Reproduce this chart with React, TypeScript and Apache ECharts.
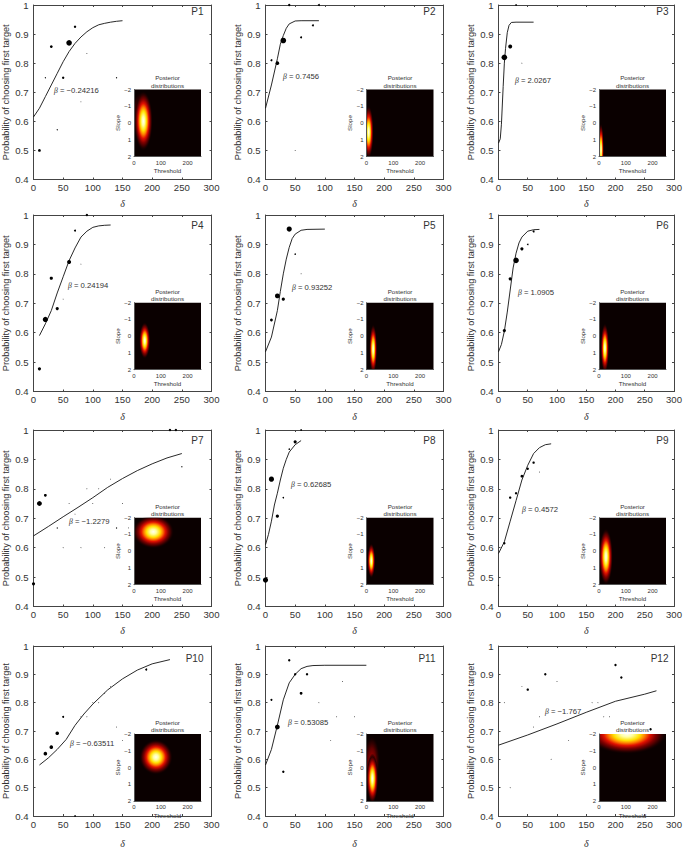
import React, { useEffect, useRef } from "react";
import * as echarts from "echarts";

type Pt = number[];
const panelNames = ["P1", "P2", "P3", "P4", "P5", "P6", "P7", "P8", "P9", "P10", "P11", "P12"];
const betaLabels = ["−0.24216", "0.7456", "2.0267", "0.24194", "0.93252", "1.0905", "−1.2279", "0.62685", "0.4572", "−0.63511", "0.53085", "−1.767"];

// [delta, proportion, dot diameter]
const pointsP1: Pt[] = [[10,.5,3.5],[20,.75,1.5],[30,.857,3.5],[40,.571,1.5],[50,.75,3],[60,.87,7],[70,.925,3],[80,.667,1],[90,.833,1],[140,.75,1.5]];
const pointsP2: Pt[] = [[10,.81,2.5],[20,.8,4.5],[30,.878,7],[40,1,3],[50,.5,1],[60,.889,2.5],[80,.93,2.5],[90,1,2.5]];
const pointsP3: Pt[] = [[10,.82,7],[20,.857,5],[30,1,2],[40,.8,1]];
const pointsP4: Pt[] = [[10,.477,4],[20,.645,6.5],[30,.785,4],[40,.682,4],[50,.714,1],[60,.84,5],[70,.947,2.5],[80,.833,1],[90,1,3]];
const pointsP5: Pt[] = [[10,.643,3.5],[20,.725,6],[30,.714,4],[40,.952,6.5],[50,.867,2],[60,.8,1]];
const pointsP6: Pt[] = [[10,.607,4],[20,.783,4],[30,.846,7],[40,.885,4],[50,.9,2],[60,.944,2.5]];
const pointsP7: Pt[] = [[0,.477,4],[10,.75,6],[20,.778,3.5],[40,.667,1.5],[50,.6,1],[60,.75,1],[70,.714,1],[80,.6,1],[90,.8,1],[100,.75,1],[110,.8,1],[120,.6,1],[130,.833,1],[140,.667,1.5],[150,.75,1],[160,.667,1],[230,1,3],[240,1,3],[250,.875,1.5]];
const pointsP8: Pt[] = [[0,.49,6.5],[10,.833,6.5],[20,.707,4],[30,.77,2],[40,.935,2],[50,.96,4],[60,1,2]];
const pointsP9: Pt[] = [[0,.472,1.5],[10,.615,3],[20,.77,3],[30,.785,3],[40,.843,3.5],[50,.868,3],[60,.889,3],[70,.857,1]];
const pointsP10: Pt[] = [[20,.62,4.5],[30,.643,4.5],[40,.692,4.5],[50,.75,2.5],[70,.4,2],[80,.75,1],[90,.75,1],[100,.8,1],[110,.8,1],[120,.833,1],[130,.857,1],[140,.714,1],[150,.667,1],[190,.917,2.5]];
const pointsP11: Pt[] = [[10,.81,2.5],[20,.714,6],[30,.556,3],[40,.95,3],[50,.9,3],[60,.833,3.5],[70,.9,3],[90,.8,1],[110,.667,1],[120,.75,1],[130,.875,1],[150,.75,1]];
const pointsP12: Pt[] = [[10,.8,1],[20,.5,1],[40,.857,1],[50,.846,3],[60,.714,1],[70,.75,1],[80,.9,3],[90,.6,1],[100,.875,1],[120,.667,1],[160,.8,1],[170,.8,1],[180,.75,1],[190,.75,1],[200,.933,3],[210,.889,3],[260,.706,3]];

// fitted curves [delta, probability]
const curveP1: Pt[] = [[0,.615],[10,.645],[20,.685],[30,.725],[40,.765],[50,.805],[60,.84],[70,.868],[80,.89],[90,.908],[100,.922],[110,.932],[120,.937],[130,.941],[140,.944],[150,.946]];
const curveP2: Pt[] = [[0,.645],[10,.725],[20,.815],[25,.865],[30,.895],[35,.92],[40,.935],[50,.945],[60,.946],[90,.946]];
const curveP3: Pt[] = [[0,.525],[3,.54],[5,.59],[8,.72],[10,.8],[12,.85],[15,.905],[18,.93],[22,.94],[30,.941],[60,.941]];
const curveP4: Pt[] = [[10,.59],[20,.63],[30,.675],[40,.735],[50,.79],[60,.845],[70,.888],[80,.925],[90,.945],[100,.958],[110,.963],[120,.965],[130,.966]];
const curveP5: Pt[] = [[0,.535],[10,.585],[20,.675],[25,.74],[30,.8],[35,.85],[40,.89],[45,.92],[50,.935],[60,.948],[70,.951],[100,.952]];
const curveP6: Pt[] = [[0,.535],[5,.56],[10,.605],[15,.67],[20,.745],[25,.82],[30,.87],[35,.905],[40,.925],[50,.945],[60,.95],[70,.951]];
const curveP7: Pt[] = [[0,.64],[25,.672],[50,.705],[75,.737],[100,.77],[125,.805],[150,.835],[175,.862],[200,.885],[225,.905],[250,.92]];
const curveP8: Pt[] = [[0,.61],[5,.645],[10,.69],[15,.745],[20,.785],[25,.83],[30,.87],[35,.9],[40,.925],[50,.95],[60,.964]];
const curveP9: Pt[] = [[0,.58],[10,.62],[20,.69],[30,.76],[40,.83],[50,.88],[60,.92],[70,.94],[80,.95],[90,.953]];
const curveP10: Pt[] = [[10,.58],[25,.605],[40,.635],[55,.67],[70,.72],[85,.76],[100,.795],[125,.845],[150,.884],[175,.915],[200,.937],[230,.952]];
const curveP11: Pt[] = [[0,.58],[10,.635],[20,.72],[30,.81],[40,.87],[50,.9],[60,.92],[70,.928],[80,.931],[100,.932],[170,.932]];
const curveP12: Pt[] = [[0,.65],[50,.686],[100,.725],[150,.766],[200,.805],[250,.83],[270,.842]];

// posterior blobs [threshold, slope, extent in threshold, extent in slope, heat]
const posteriorP1: Pt[] = [[28,-.6,75,2.6,0],[35,-.12,70,3.6,1]];
const posteriorP2: Pt[] = [[8,.54,38,3.2,1]];
const posteriorP3: Pt[] = [[7.5,1.6,22,3.2,1]];
const posteriorP4: Pt[] = [[40,.26,42,2.2,1]];
const posteriorP5: Pt[] = [[25,.77,30,3,1]];
const posteriorP6: Pt[] = [[22,.71,32,3,1]];
const posteriorP7: Pt[] = [[72,-1.16,155,2,1]];
const posteriorP8: Pt[] = [[18,.57,30,2.1,1]];
const posteriorP9: Pt[] = [[26,.33,52,3.4,1]];
const posteriorP10: Pt[] = [[82,-.62,125,2.1,1]];
const posteriorP11: Pt[] = [[20,-.4,60,3,0],[22,.66,44,3,1]];
const posteriorP12: Pt[] = [[104,-2,300,2.4,1]];

const allPoints = [pointsP1, pointsP2, pointsP3, pointsP4, pointsP5, pointsP6, pointsP7, pointsP8, pointsP9, pointsP10, pointsP11, pointsP12];
const allCurves = [curveP1, curveP2, curveP3, curveP4, curveP5, curveP6, curveP7, curveP8, curveP9, curveP10, curveP11, curveP12];
const allPosteriors = [posteriorP1, posteriorP2, posteriorP3, posteriorP4, posteriorP5, posteriorP6, posteriorP7, posteriorP8, posteriorP9, posteriorP10, posteriorP11, posteriorP12];

// layout (pixels)
const colLeft = [33.5, 265.5, 498.5];
const rowTop = [3, 215, 430, 646];
const plotW = 178;
const plotH = 176.5;
const insetSize = 67;
const insetDx = [100.5, 101, 100.5];
const insetDy = [86.5, 87.7, 87.7, 88];
const nameDy = [8, 10, 10.7, 12.6];
const deltaGap = [19, 20, 19, 22];
const betaPos = [[54,90.3],[283,76],[515,80],[68,285.7],[292,287],[518,292],[69,521],[291,484],[522,509],[70,743],[288,722],[545,711]];
const dotScale = 0.8;

const DARK = "#333";
const BOX = "#444";
const SANS = "'Liberation Sans', Arial, sans-serif";

const hot = new echarts.graphic.RadialGradient(0.5, 0.5, 0.5, [
  { offset: 0, color: "#fffff0" },
  { offset: 0.15, color: "#ffffa0" },
  { offset: 0.33, color: "#ffe000" },
  { offset: 0.45, color: "#ff8000" },
  { offset: 0.58, color: "#e01000" },
  { offset: 0.72, color: "#800000" },
  { offset: 0.86, color: "#300000" },
  { offset: 1, color: "rgba(10,0,0,0)" },
]);
const dim = new echarts.graphic.RadialGradient(0.5, 0.5, 0.5, [
  { offset: 0, color: "#b00000" },
  { offset: 0.5, color: "#600000" },
  { offset: 0.8, color: "rgba(40,0,0,0.7)" },
  { offset: 1, color: "rgba(10,0,0,0)" },
]);

function renderBlob(_params: any, api: any) {
  const t = api.value(0);
  const s = api.value(1);
  const c = api.coord([t, s]);
  const ex = api.coord([t + api.value(2) / 2, s]);
  const ey = api.coord([t, s + api.value(3) / 2]);
  return {
    type: "ellipse",
    shape: { cx: c[0], cy: c[1], rx: Math.abs(ex[0] - c[0]), ry: Math.abs(ey[1] - c[1]) },
    style: { fill: api.value(4) ? hot : dim },
  };
}

function buildOption() {
  const grid: any[] = [];
  const xAxis: any[] = [];
  const yAxis: any[] = [];
  const series: any[] = [];
  const graphic: any[] = [];

  const frame = { show: true, lineStyle: { color: BOX, width: 1 } };

  panelNames.forEach((name, i) => {
    const col = i % 3;
    const row = Math.floor(i / 3);
    const left = colLeft[col];
    const top = rowTop[row];
    const mainIndex = grid.length;
    grid.push({ left, top, width: plotW, height: plotH, containLabel: false });

    const xBase = { gridIndex: mainIndex, type: "value", min: 0, max: 300, interval: 50, splitLine: { show: false }, axisLine: { ...frame, onZero: false }, axisTick: { inside: true, length: 2, lineStyle: { color: BOX } } };
    const yBase = { gridIndex: mainIndex, type: "value", min: 0.4, max: 1, interval: 0.1, splitLine: { show: false }, axisLine: { ...frame, onZero: false }, axisTick: { inside: true, length: 2, lineStyle: { color: BOX } } };
    const xMain = xAxis.length;
    xAxis.push({ ...xBase, position: "bottom", name: "δ", nameLocation: "middle", nameGap: deltaGap[row], nameTextStyle: { fontFamily: "'Liberation Serif', serif", fontStyle: "italic", fontSize: 10, color: DARK }, axisLabel: { margin: 3, color: DARK, fontSize: 9.6, fontFamily: SANS } });
    xAxis.push({ ...xBase, position: "top", axisLabel: { show: false } });
    const yMain = yAxis.length;
    yAxis.push({ ...yBase, position: "left", name: "Probability of choosing first target", nameLocation: "middle", nameGap: 23, nameTextStyle: { fontFamily: SANS, fontSize: 9.2, color: DARK }, axisLabel: { margin: 5, color: DARK, fontSize: 9.6, fontFamily: SANS, formatter: (v: number) => (Math.abs(v - 1) < 1e-6 ? "1" : v.toFixed(1)) } });
    yAxis.push({ ...yBase, position: "right", axisLabel: { show: false } });

    series.push({
      type: "line", xAxisIndex: xMain, yAxisIndex: yMain, data: allCurves[i], showSymbol: false, smooth: false, clip: false, z: 3,
      lineStyle: { color: "#111", width: 0.9 },
    });
    series.push({
      type: "scatter", xAxisIndex: xMain, yAxisIndex: yMain, clip: false, z: 4,
      data: allPoints[i].map((p) => ({ value: [p[0], p[1]], symbolSize: p[2] * dotScale })),
      itemStyle: { color: "#000", opacity: 1 },
    });

    // inset
    const insetLeft = left + insetDx[col];
    const insetTop = top + insetDy[row];
    const insetIndex = grid.length;
    grid.push({ left: insetLeft, top: insetTop, width: insetSize, height: insetSize, show: true, backgroundColor: "#0a0000", borderWidth: 0, z: 5 });
    const xInset = xAxis.length;
    xAxis.push({
      gridIndex: insetIndex, type: "value", position: "bottom", min: 0, max: 250, interval: 100, z: 6, splitLine: { show: false }, axisTick: { show: false },
      axisLine: { ...frame, onZero: false, lineStyle: { color: "#555", width: 1 } },
      name: "Threshold", nameLocation: "middle", nameGap: 11, nameTextStyle: { fontFamily: SANS, fontSize: 6.2, color: DARK },
      axisLabel: { margin: 3, fontSize: 6, color: DARK, fontFamily: SANS, showMaxLabel: false },
    });
    const yInset = yAxis.length;
    yAxis.push({
      gridIndex: insetIndex, type: "value", position: "left", inverse: true, min: -2, max: 2, interval: 1, z: 6, splitLine: { show: false }, axisTick: { show: false },
      axisLine: { ...frame, onZero: false, lineStyle: { color: "#555", width: 1 } },
      name: "Slope", nameLocation: "middle", nameGap: 14, nameTextStyle: { fontFamily: SANS, fontSize: 6.2, color: DARK },
      axisLabel: { margin: 3, fontSize: 6, color: DARK, fontFamily: SANS, formatter: (v: number) => (v < 0 ? "−" + Math.abs(v) : String(v)) },
    });
    series.push({
      type: "custom", xAxisIndex: xInset, yAxisIndex: yInset, clip: true, z: 5,
      renderItem: renderBlob,
      encode: { x: 0, y: 1 },
      data: allPosteriors[i],
    });

    graphic.push({
      type: "text", x: insetLeft + insetSize / 2, y: insetTop - 8, z: 20,
      style: { text: "Posterior\ndistributions", fill: DARK, font: `6.2px ${SANS}`, align: "center", verticalAlign: "middle", lineHeight: 7.4 },
    });
    graphic.push({
      type: "text", x: left + plotW - 8, y: top + nameDy[row], z: 20,
      style: { text: name, fill: DARK, font: `10px ${SANS}`, align: "right", verticalAlign: "middle" },
    });
    graphic.push({
      type: "text", x: betaPos[i][0], y: betaPos[i][1], z: 20,
      style: {
        text: `{b|β}{t| = ${betaLabels[i]}}`, verticalAlign: "middle", align: "left",
        rich: {
          b: { font: `italic 7.7px 'Liberation Serif', serif`, fill: DARK },
          t: { font: `7.7px ${SANS}`, fill: DARK },
        },
      },
    });
  });

  return { animation: false, backgroundColor: "#fff", grid, xAxis, yAxis, series, graphic };
}

export default function App() {
  const ref = useRef<HTMLDivElement>(null);
  useEffect(() => {
    const chart = echarts.init(ref.current!, undefined, { renderer: "svg" });
    chart.setOption(buildOption() as any);
    return () => chart.dispose();
  }, []);
  return <div ref={ref} style={{ position: "absolute", left: 0, top: 0, width: 685, height: 849 }} />;
}
